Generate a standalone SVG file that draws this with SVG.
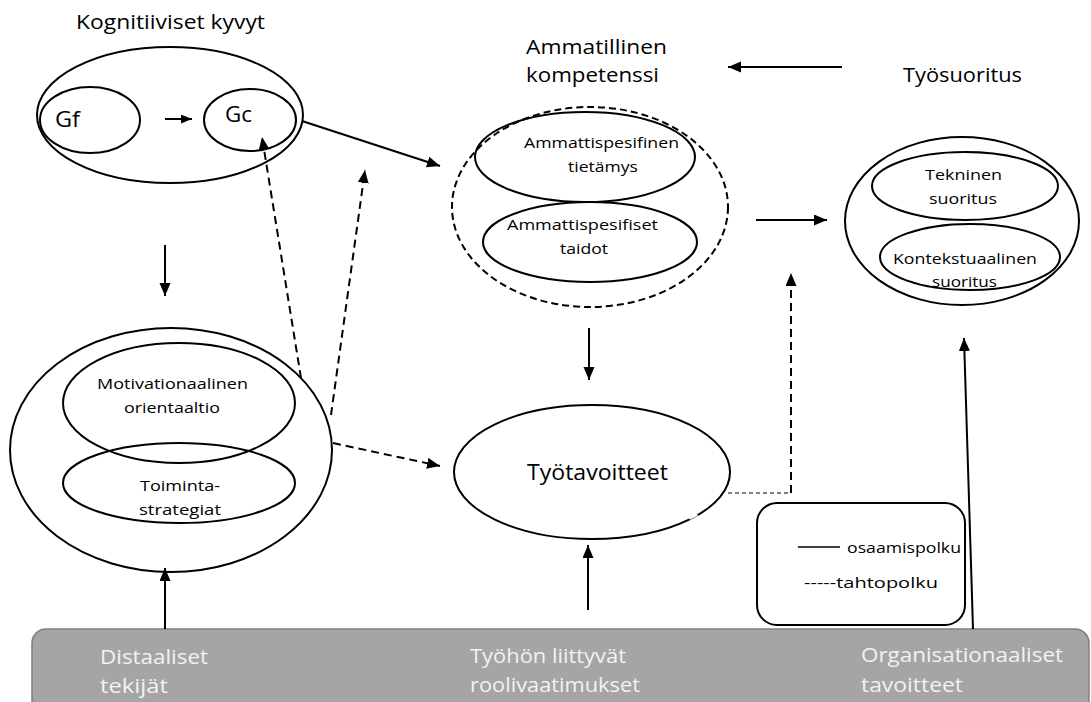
<svg xmlns="http://www.w3.org/2000/svg" width="1091" height="702" viewBox="0 0 1091 702">
<defs>
<marker id="ah" markerUnits="userSpaceOnUse" markerWidth="14" markerHeight="12" refX="13" refY="5.5" orient="auto">
<path d="M0,0 L13,5.5 L0,11 z" fill="#000"/>
</marker>
<marker id="ahs" markerUnits="userSpaceOnUse" markerWidth="12" markerHeight="10" refX="11" refY="4.5" orient="auto">
<path d="M0,0 L11,4.5 L0,9 z" fill="#000"/>
</marker>
</defs>
<style>
.e{fill:none;stroke:#000;stroke-width:2}
.ed{fill:none;stroke:#000;stroke-width:2;stroke-dasharray:7 4}
.t{font-family:"Open Sans","Liberation Sans",sans-serif;fill:#000}
.w{font-family:"Open Sans","Liberation Sans",sans-serif;fill:#f2f2f2}
.s{stroke:#000;stroke-width:2;fill:none}
.d{stroke:#000;stroke-width:2;fill:none;stroke-dasharray:8 5}
.dt{stroke:#000;stroke-width:1.2;fill:none;stroke-dasharray:4 3}
</style>
<rect x="0" y="0" width="1091" height="702" fill="#fff"/>

<g id="bottom-bar">
<rect x="32" y="629" width="1057" height="95" rx="14" fill="#a5a5a5" stroke="#7f7f7f" stroke-width="1.5"/>
<text class="w" font-size="20" x="100" y="664" textLength="108" lengthAdjust="spacingAndGlyphs">Distaaliset</text>
<text class="w" font-size="20" x="100" y="693" textLength="68" lengthAdjust="spacingAndGlyphs">tekijät</text>
<text class="w" font-size="20" x="470" y="663" textLength="156" lengthAdjust="spacingAndGlyphs">Työhön liittyvät</text>
<text class="w" font-size="20" x="470" y="692" textLength="170" lengthAdjust="spacingAndGlyphs">roolivaatimukset</text>
<text class="w" font-size="20" x="861" y="662" textLength="202" lengthAdjust="spacingAndGlyphs">Organisationaaliset</text>
<text class="w" font-size="20" x="861" y="692" textLength="102" lengthAdjust="spacingAndGlyphs">tavoitteet</text>
</g>

<g id="kognitiiviset">
<text class="t" font-size="20" x="76" y="29" textLength="189" lengthAdjust="spacingAndGlyphs">Kognitiiviset kyvyt</text>
<ellipse class="e" cx="170" cy="115" rx="133" ry="68"/>
<g id="gf">
<ellipse class="e" cx="90" cy="120" rx="50" ry="33"/>
<text class="t" font-size="22" x="55" y="127" textLength="25" lengthAdjust="spacingAndGlyphs">Gf</text>
</g>
<g id="gc">
<ellipse class="e" cx="250" cy="120" rx="46" ry="31"/>
<text class="t" font-size="22" x="225" y="122" textLength="27" lengthAdjust="spacingAndGlyphs">Gc</text>
</g>
</g>

<g id="motivaatio">
<ellipse class="e" cx="171" cy="450" rx="161" ry="122"/>
<ellipse class="e" cx="179" cy="403" rx="116" ry="60"/>
<ellipse class="e" cx="179" cy="483" rx="116" ry="40"/>
<text class="t" font-size="15" x="97" y="389" textLength="151" lengthAdjust="spacingAndGlyphs">Motivationaalinen</text>
<text class="t" font-size="15" x="124" y="413" textLength="96" lengthAdjust="spacingAndGlyphs">orientaaltio</text>
<text class="t" font-size="15" x="140" y="491" textLength="80" lengthAdjust="spacingAndGlyphs">Toiminta-</text>
<text class="t" font-size="15" x="139" y="515" textLength="82" lengthAdjust="spacingAndGlyphs">strategiat</text>
</g>

<g id="ammatillinen">
<text class="t" font-size="20" x="526" y="54" textLength="141" lengthAdjust="spacingAndGlyphs">Ammatillinen</text>
<text class="t" font-size="20" x="526" y="82" textLength="133" lengthAdjust="spacingAndGlyphs">kompetenssi</text>
<ellipse class="ed" cx="590" cy="207" rx="138" ry="100"/>
<ellipse class="e" cx="585" cy="157" rx="110" ry="45"/>
<ellipse class="e" cx="590" cy="242" rx="107" ry="40"/>
<text class="t" font-size="15" x="524" y="148" textLength="155" lengthAdjust="spacingAndGlyphs">Ammattispesifinen</text>
<text class="t" font-size="15" x="568" y="172" textLength="70" lengthAdjust="spacingAndGlyphs">tietämys</text>
<text class="t" font-size="15" x="507" y="230" textLength="151" lengthAdjust="spacingAndGlyphs">Ammattispesifiset</text>
<text class="t" font-size="15" x="560" y="254" textLength="48" lengthAdjust="spacingAndGlyphs">taidot</text>
</g>

<g id="tyosuoritus">
<text class="t" font-size="20" x="903" y="82" textLength="119" lengthAdjust="spacingAndGlyphs">Työsuoritus</text>
<ellipse class="e" cx="962" cy="221" rx="117" ry="84"/>
<ellipse class="e" cx="965" cy="186" rx="93" ry="34"/>
<ellipse class="e" cx="970" cy="257" rx="90" ry="33"/>
<text class="t" font-size="15" x="925" y="180" textLength="77" lengthAdjust="spacingAndGlyphs">Tekninen</text>
<text class="t" font-size="15" x="929" y="204" textLength="68" lengthAdjust="spacingAndGlyphs">suoritus</text>
<text class="t" font-size="15" x="893" y="264" textLength="144" lengthAdjust="spacingAndGlyphs">Kontekstuaalinen</text>
<text class="t" font-size="15" x="932" y="287" textLength="65" lengthAdjust="spacingAndGlyphs">suoritus</text>
</g>

<g id="tyotavoitteet">
<ellipse class="e" cx="592" cy="472" rx="138" ry="67"/>
<line x1="689" y1="518" x2="697" y2="514" stroke="#fff" stroke-width="4"/>
<text class="t" font-size="21" x="527" y="480" textLength="141" lengthAdjust="spacingAndGlyphs">Työtavoitteet</text>
</g>

<g id="legend">
<rect x="757" y="503" width="208" height="122" rx="20" fill="#fff" stroke="#000" stroke-width="2"/>
<line x1="798" y1="547" x2="840" y2="547" stroke="#000" stroke-width="1.5"/>
<text class="t" font-size="14" x="847" y="553" textLength="114" lengthAdjust="spacingAndGlyphs">osaamispolku</text>
<text class="t" font-size="14" x="804" y="588" textLength="134" lengthAdjust="spacingAndGlyphs">-----tahtopolku</text>
</g>

<g id="connectors">
<line class="s" x1="165" y1="119" x2="192" y2="119" marker-end="url(#ahs)"/>
<line class="s" x1="302" y1="121" x2="440" y2="166" marker-end="url(#ah)"/>
<line class="d" x1="301" y1="378" x2="262" y2="137" marker-end="url(#ah)"/>
<line class="d" x1="331" y1="415" x2="365" y2="170" marker-end="url(#ah)"/>
<line class="d" x1="333" y1="443" x2="440" y2="466" marker-end="url(#ah)"/>
<line class="s" x1="165" y1="245" x2="165" y2="296" marker-end="url(#ah)"/>
<line class="s" x1="165" y1="629" x2="165" y2="568" marker-end="url(#ah)"/>
<line class="s" x1="842" y1="67" x2="728" y2="67" marker-end="url(#ah)"/>
<line class="s" x1="756" y1="220" x2="827" y2="220" marker-end="url(#ah)"/>
<line class="s" x1="589" y1="328" x2="589" y2="380" marker-end="url(#ah)"/>
<line class="s" x1="588" y1="610" x2="588" y2="545" marker-end="url(#ah)"/>
<line class="dt" x1="728" y1="493" x2="791" y2="493"/>
<line class="d" x1="791" y1="493" x2="791" y2="273" marker-end="url(#ah)"/>
<line class="s" x1="973" y1="629" x2="964" y2="338" marker-end="url(#ah)"/>
</g>
</svg>
